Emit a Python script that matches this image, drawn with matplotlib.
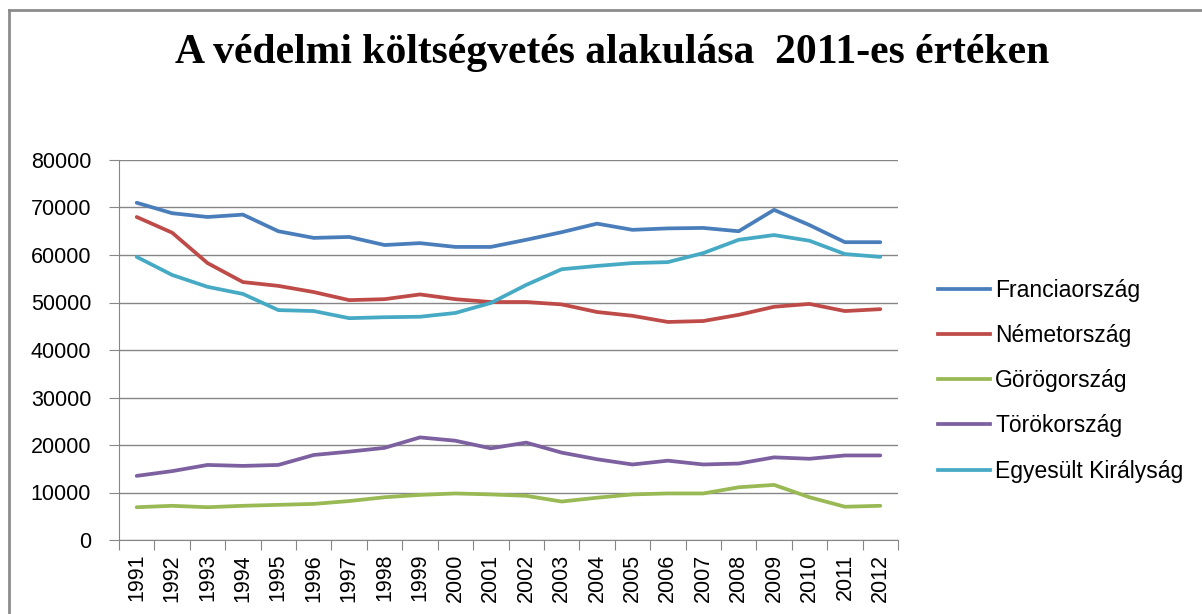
import matplotlib
matplotlib.use("Agg")
import matplotlib.pyplot as plt
from matplotlib.lines import Line2D

years = [str(y) for y in range(1991, 2013)]

franciaorszag = [71000, 68800, 68000, 68500, 65000, 63600, 63800, 62100, 62500, 61700, 61700,
                 63200, 64800, 66600, 65300, 65600, 65700, 65000, 69500, 66300, 62700, 62700]
nemetorszag = [68000, 64700, 58300, 54300, 53500, 52200, 50500, 50700, 51700, 50700, 50100,
               50100, 49600, 48000, 47200, 45900, 46100, 47400, 49100, 49700, 48200, 48600]
gorogorszag = [6900, 7200, 6900, 7200, 7400, 7600, 8200, 9000, 9500, 9800, 9600,
               9300, 8100, 8900, 9600, 9800, 9800, 11100, 11600, 9000, 7000, 7200]
torokorszag = [13500, 14500, 15800, 15600, 15800, 17900, 18600, 19400, 21600, 20900, 19300,
               20500, 18400, 17000, 15900, 16700, 15900, 16100, 17400, 17100, 17800, 17800]
egyesult_kiralysag = [59600, 55800, 53300, 51800, 48400, 48200, 46700, 46900, 47000, 47800, 49900,
                      53700, 57000, 57700, 58300, 58500, 60400, 63200, 64200, 63000, 60200, 59600]

series = [
    ("Franciaország", franciaorszag, "#4A7EBB"),
    ("Németország", nemetorszag, "#BE4B48"),
    ("Görögország", gorogorszag, "#98B954"),
    ("Törökország", torokorszag, "#7D60A0"),
    ("Egyesült Királyság", egyesult_kiralysag, "#46AAC5"),
]

W, H = 1202, 614
fig = plt.figure(figsize=(W / 100, H / 100), dpi=100)
ax = fig.add_axes([119 / W, (H - 540) / H, (898 - 119) / W, (540 - 160) / H])

x = list(range(len(years)))
for name, vals, col in series:
    ax.plot(x, vals, color=col, lw=2.7, label=name, solid_capstyle="round", solid_joinstyle="round")

ax.set_xlim(-0.5, len(years) - 0.5)
ax.set_ylim(0, 80000)
ax.set_yticks(range(0, 80001, 10000))
ax.yaxis.grid(True, color="#868686", lw=1)
ax.set_axisbelow(True)

# category boundaries carry the tick marks, labels sit in the middle
ax.set_xticks([i - 0.5 for i in range(len(years) + 1)])
ax.set_xticklabels([])
ax.set_xticks(x, minor=True)
ax.set_xticklabels(years, minor=True, rotation=90, fontsize=15.5, family="Liberation Sans")
ax.tick_params(axis="x", which="major", length=7, color="#868686", direction="out")
ax.tick_params(axis="x", which="minor", length=0, pad=10)
ax.tick_params(axis="y", length=7, color="#868686", labelsize=15.5, pad=13)
for lab in ax.get_yticklabels():
    lab.set_family("Liberation Sans")

for side in ["top", "right"]:
    ax.spines[side].set_visible(False)
for side in ["left", "bottom"]:
    ax.spines[side].set_color("#868686")

fig.text(612 / W, 1 - 53 / H, "A védelmi költségvetés alakulása  2011-es értéken",
         ha="center", va="center", fontsize=30, fontweight="bold", family="Liberation Serif")

handles = [Line2D([], [], color=c, lw=2.7) for _, _, c in series]
fig.legend(handles, [s[0] for s in series], loc="upper left",
           bbox_to_anchor=(917 / W, 1 - 258 / H), frameon=False,
           prop={"family": "Liberation Sans", "size": 16.5},
           handlelength=2.27, handletextpad=0.25, labelspacing=0.97)

# outer chart border (top and left edges visible)
fig.add_artist(Line2D([9 / W, 1], [1 - 10 / H, 1 - 10 / H], color="#8c8c8c", lw=2))
fig.add_artist(Line2D([9 / W, 9 / W], [0, 1 - 10 / H], color="#8c8c8c", lw=2))

fig.savefig("out.png", dpi=100)
